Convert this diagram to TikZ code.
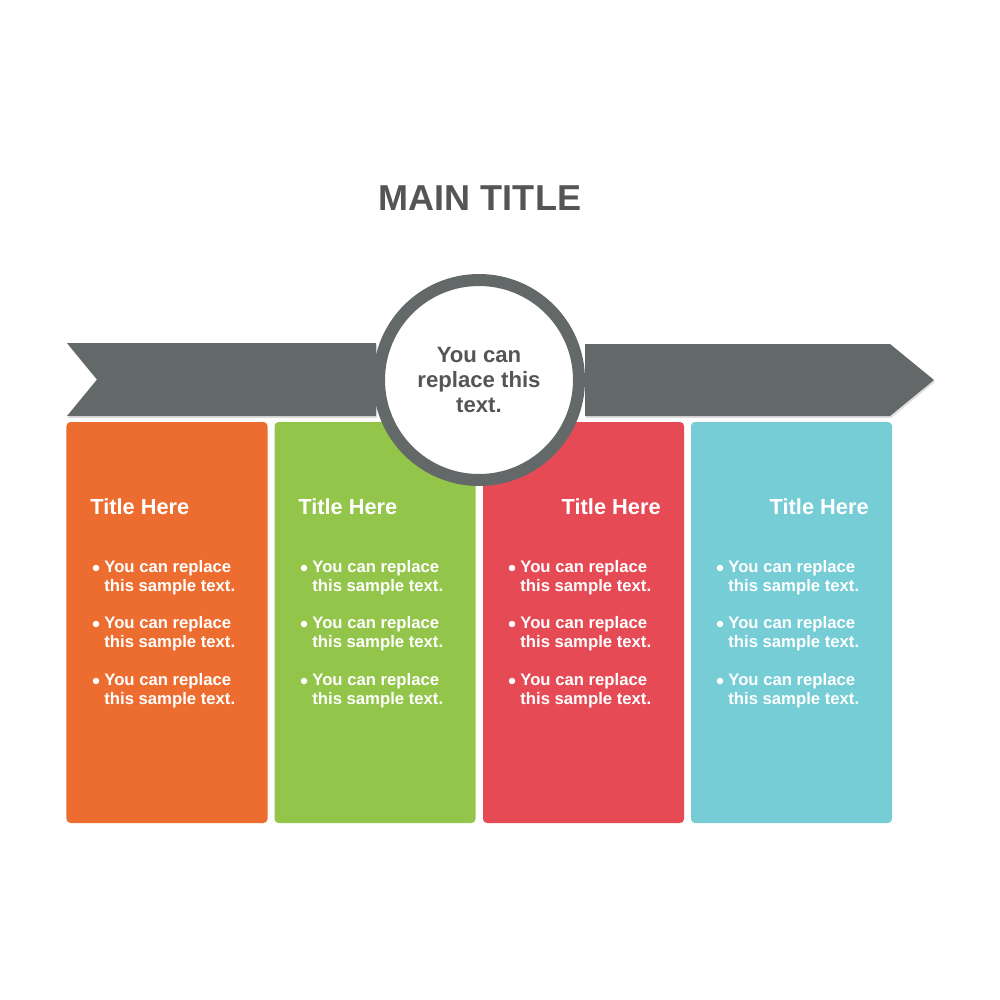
\documentclass[tikz,border=0pt]{standalone}
\usepackage{fontspec}
\setmainfont{Liberation Sans}
\usetikzlibrary{shadows}
\definecolor{bannergray}{HTML}{636868}
\definecolor{textgray}{HTML}{555555}
\definecolor{cardorange}{HTML}{EC6D2F}
\definecolor{cardgreen}{HTML}{92C54A}
\definecolor{cardred}{HTML}{E54A55}
\definecolor{cardcyan}{HTML}{76CDD6}
\tikzset{
	card/.style={rectangle, rounded corners=0.8mm, minimum width=40.2mm, minimum height=80.2mm, inner sep=0pt},
	banner/.style={fill=bannergray, drop shadow={shadow xshift=0.2mm, shadow yshift=-0.4mm, opacity=0.25}},
	cardtitle/.style={text=white, font=\bfseries\fontsize{12.4}{13}\selectfont, inner sep=0pt},
	itemtext/.style={text=white, align=left, anchor=west, inner sep=0pt, font=\bfseries\fontsize{9.5}{10.8}\selectfont},
	itemdot/.style={circle, fill=white, inner sep=0pt, minimum size=1.3mm}
}
\begin{document}
\begin{tikzpicture}[x=0.2mm,y=-0.2mm]
	\useasboundingbox (0,0) rectangle (1000,1000);
	% title
	\node (title) at (480,198) [text=textgray, font=\bfseries\fontsize{20.5}{24}\selectfont] {MAIN TITLE};
	% cards
	\node (C1) at (167,622.5)	[card, fill=cardorange]	{};
	\node (C2) at (375,622.5)	[card, fill=cardgreen]	{};
	\node (C3) at (583.5,622.5)	[card, fill=cardred]	{};
	\node (C4) at (791.5,622.5)	[card, fill=cardcyan]	{};
	\node (T1) at (90,507)	[cardtitle, anchor=west]	{Title Here};
	\node (T2) at (298,507)	[cardtitle, anchor=west]	{Title Here};
	\node (T3) at (661,507)	[cardtitle, anchor=east]	{Title Here};
	\node (T4) at (869,507)	[cardtitle, anchor=east]	{Title Here};
	% bullet items
	\foreach \x [count=\c] in {67,275,483,691} {
		\foreach \y [count=\k] in {566,622,679} {
			\node (D\c\k) at (\x+29,\y+2) [itemdot] {};
			\node (I\c\k) at (\x+37,\y+12) [itemtext] {You can replace\\this sample text.};
		}
	}
	% banners
	\path[banner] (67,343) -- (376,343) -- (376,416) -- (67,416) -- (97,379.5) -- cycle;
	\path[banner] (585,344) -- (890,344) -- (934,380) -- (890,416) -- (585,416) -- cycle;
	% hub
	\node (hub) at (479,380) [circle, fill=white, draw=bannergray, line width=2.4mm, minimum size=40mm, inner sep=0pt, outer sep=0pt, drop shadow={shadow xshift=0.2mm, shadow yshift=-0.4mm, opacity=0.25}, text=textgray, align=center, font=\bfseries\fontsize{12.6}{14.2}\selectfont] {You can\\replace this\\text.};
\end{tikzpicture}
\end{document}
